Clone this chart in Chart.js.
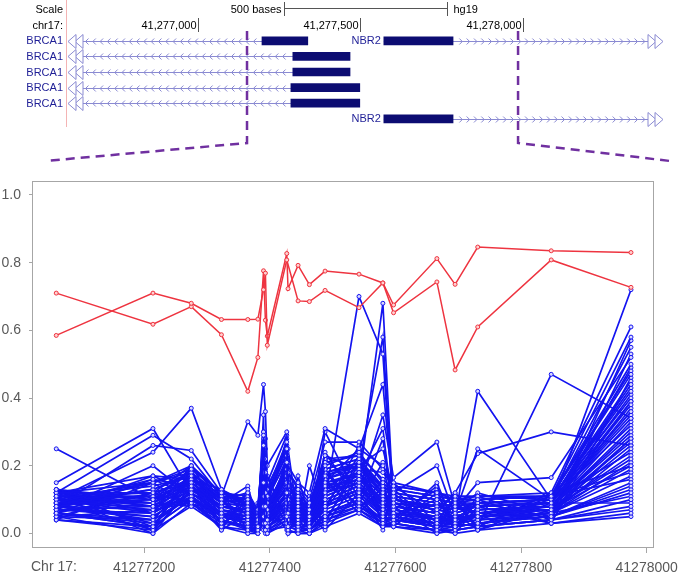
<!DOCTYPE html>
<html>
<head>
<meta charset="utf-8">
<script src="https://cdn.jsdelivr.net/npm/chart.js@4.4.1/dist/chart.umd.min.js"></script>
<style>
  html, body { margin: 0; padding: 0; background: #fff; }
  #wrap { position: relative; width: 685px; height: 573px; overflow: hidden; }
  #track { position: absolute; left: 0; top: 0; }
  #meth { position: absolute; left: 0; top: 165px; }
</style>
</head>
<body>
<div id="wrap">
  <canvas id="track" width="685" height="165"></canvas>
  <canvas id="meth" width="685" height="408"></canvas>
</div>
<script>
// ---- genome browser track (hg19, chr17) ----
const viewStart = 41276594, viewEnd = 41278431;
const rulerTicks = [41277000, 41277500, 41278000];
const scaleBar = [41277265, 41277765];
const zoomFrom = [41277151, 41277985];
const rowLabels = ['r1', 'r2', 'r3', 'r4', 'r5', 'r6'];
const txName = ['BRCA1', 'BRCA1', 'BRCA1', 'BRCA1', 'BRCA1', 'NBR2', 'NBR2'];
const txRow = [0, 1, 2, 3, 4, 0, 5];
const txStrand = [-1, -1, -1, -1, -1, 1, 1];
const txStart = [41196312, 41196312, 41196312, 41196312, 41196312, 41277572, 41277572];
const txEnd = [41277338, 41277468, 41277468, 41277498, 41277498, 41305000, 41305000];
const exonStart = [41277197, 41277292, 41277292, 41277286, 41277286, 41277572, 41277572];
const exonEnd = [41277338, 41277468, 41277468, 41277498, 41277498, 41277785, 41277785];

// ---- methylation per CpG site ----
const sites = [41277060, 41277214, 41277275, 41277323, 41277365, 41277381, 41277390, 41277393,
  41277396, 41277427, 41277429, 41277445, 41277463, 41277488, 41277542, 41277580, 41277597,
  41277666, 41277695, 41277731, 41277848, 41277975];
const xTicks = [41277200, 41277400, 41277600, 41277800, 41278000];
const yTicks = [0, 0.2, 0.4, 0.6, 0.8, 1.0];
const redA = [0.585, 0.71, 0.68, 0.632, 0.632, 0.633, 0.72, 0.769, 0.556, 0.808, null, 0.687, 0.685, 0.718, 0.667, 0.74, 0.652, 0.743, 0.483, 0.61, 0.808, 0.727];
const redB = [0.71, 0.618, 0.67, 0.587, 0.42, 0.52, 0.776, 0.63, 0.583, 0.827, 0.723, 0.792, 0.735, 0.775, 0.766, 0.74, 0.675, 0.812, 0.736, 0.846, 0.835, 0.83];
const blueSamples = [
  [0.08,0.05,0.12,0.06,0.03,0.02,0.15,0.08,0.04,0.12,0.06,0.03,0.02,0.10,0.14,0.06,0.05,0.03,0.04,0.05,0.07,0.22],
  [0.11,0.14,0.17,0.09,0.06,0.04,0.26,0.12,0.07,0.21,0.10,0.08,0.05,0.17,0.21,0.12,0.09,0.07,0.06,0.08,0.09,0.38],
  [0.06,0.02,0.10,0.04,0.01,0.01,0.08,0.03,0.02,0.05,0.02,0.01,0.01,0.05,0.09,0.03,0.03,0.01,0.02,0.03,0.05,0.12],
  [0.13,0.10,0.19,0.12,0.09,0.05,0.22,0.18,0.11,0.25,0.14,0.11,0.07,0.20,0.24,0.15,0.12,0.10,0.09,0.10,0.11,0.47],
  [0.09,0.16,0.14,0.07,0.05,0.03,0.18,0.06,0.03,0.09,0.04,0.05,0.03,0.12,0.18,0.09,0.06,0.04,0.03,0.06,0.08,0.30],
  [0.07,0.08,0.09,0.03,0.02,0.00,0.05,0.01,0.00,0.03,0.01,0.00,0.00,0.03,0.07,0.02,0.02,0.00,0.01,0.02,0.04,0.08],
  [0.12,0.12,0.20,0.10,0.12,0.07,0.29,0.22,0.13,0.27,0.18,0.13,0.09,0.23,0.19,0.18,0.14,0.12,0.11,0.11,0.10,0.55],
  [0.05,0.04,0.11,0.05,0.04,0.02,0.11,0.05,0.03,0.08,0.05,0.02,0.02,0.08,0.12,0.05,0.04,0.02,0.03,0.04,0.06,0.17],
  [0.10,0.07,0.15,0.08,0.07,0.04,0.20,0.10,0.06,0.15,0.09,0.06,0.04,0.14,0.16,0.10,0.08,0.06,0.05,0.07,0.08,0.27],
  [0.04,0.01,0.08,0.02,0.00,0.00,0.03,0.00,0.01,0.02,0.00,0.01,0.00,0.02,0.06,0.02,0.03,0.01,0.00,0.01,0.03,0.06],
  [0.09,0.13,0.18,0.11,0.10,0.06,0.24,0.15,0.09,0.19,0.12,0.09,0.06,0.19,0.22,0.14,0.11,0.09,0.08,0.09,0.10,0.42],
  [0.07,0.06,0.13,0.07,0.04,0.03,0.13,0.07,0.05,0.11,0.07,0.04,0.03,0.11,0.15,0.07,0.07,0.05,0.04,0.05,0.07,0.20],
  [0.12,0.17,0.16,0.13,0.08,0.05,0.17,0.09,0.05,0.14,0.08,0.07,0.05,0.15,0.17,0.08,0.10,0.08,0.07,0.08,0.09,0.34],
  [0.06,0.03,0.12,0.05,0.03,0.01,0.07,0.04,0.02,0.06,0.03,0.02,0.01,0.06,0.10,0.04,0.04,0.02,0.02,0.03,0.05,0.14],
  [0.11,0.09,0.17,0.09,0.11,0.06,0.28,0.20,0.12,0.23,0.15,0.12,0.08,0.21,0.23,0.16,0.13,0.11,0.10,0.10,0.11,0.50],
  [0.08,0.11,0.10,0.06,0.05,0.03,0.10,0.05,0.03,0.10,0.05,0.03,0.02,0.09,0.13,0.06,0.06,0.03,0.03,0.05,0.06,0.25],
  [0.10,0.15,0.19,0.12,0.08,0.05,0.21,0.13,0.08,0.17,0.11,0.08,0.05,0.16,0.20,0.11,0.09,0.08,0.07,0.09,0.09,0.36],
  [0.05,0.00,0.09,0.02,0.01,0.00,0.04,0.02,0.00,0.04,0.01,0.00,0.00,0.04,0.08,0.03,0.02,0.01,0.01,0.02,0.04,0.10],
  [0.13,0.06,0.14,0.08,0.06,0.04,0.16,0.11,0.07,0.18,0.09,0.06,0.04,0.13,0.16,0.09,0.08,0.06,0.05,0.07,0.08,0.31],
  [0.09,0.10,0.16,0.10,0.09,0.05,0.25,0.16,0.10,0.22,0.13,0.10,0.07,0.18,0.21,0.13,0.11,0.09,0.08,0.09,0.10,0.44],
  [0.25,0.10,0.15,0.07,0.05,0.03,0.12,0.06,0.04,0.10,0.06,0.04,0.03,0.10,0.14,0.08,0.07,0.04,0.04,0.06,0.07,0.28],
  [0.15,0.31,0.12,0.06,0.04,0.02,0.10,0.05,0.03,0.09,0.05,0.03,0.02,0.08,0.12,0.06,0.05,0.03,0.03,0.05,0.06,0.21],
  [0.12,0.29,0.22,0.11,0.07,0.04,0.19,0.10,0.06,0.16,0.10,0.07,0.04,0.13,0.17,0.10,0.08,0.06,0.05,0.07,0.08,0.33],
  [0.10,0.24,0.37,0.13,0.09,0.05,0.23,0.14,0.08,0.20,0.12,0.08,0.06,0.17,0.20,0.12,0.10,0.08,0.07,0.08,0.09,0.39],
  [0.08,0.26,0.245,0.12,0.10,0.06,0.27,0.17,0.10,0.24,0.14,0.10,0.07,0.19,0.22,0.13,0.11,0.09,0.08,0.09,0.10,0.45],
  [0.07,0.20,0.11,0.11,0.33,0.29,0.44,0.36,0.20,0.30,0.20,0.15,0.12,0.31,0.25,0.20,0.15,0.12,0.10,0.11,0.12,0.61],
  [0.09,0.08,0.14,0.07,0.06,0.03,0.14,0.08,0.05,0.12,0.07,0.05,0.04,0.10,0.70,0.53,0.06,0.05,0.04,0.06,0.07,0.26],
  [0.10,0.09,0.15,0.08,0.07,0.04,0.18,0.10,0.06,0.14,0.08,0.06,0.04,0.12,0.15,0.68,0.08,0.06,0.05,0.07,0.08,0.29],
  [0.11,0.12,0.16,0.09,0.08,0.05,0.20,0.12,0.08,0.17,0.10,0.07,0.05,0.15,0.25,0.44,0.10,0.07,0.06,0.08,0.09,0.35],
  [0.08,0.07,0.13,0.06,0.05,0.03,0.12,0.07,0.04,0.11,0.06,0.04,0.03,0.09,0.13,0.35,0.165,0.27,0.08,0.06,0.07,0.23],
  [0.07,0.05,0.12,0.05,0.04,0.02,0.10,0.05,0.03,0.08,0.04,0.03,0.02,0.07,0.20,0.25,0.12,0.20,0.05,0.05,0.06,0.19],
  [0.06,0.04,0.11,0.05,0.03,0.02,0.09,0.04,0.03,0.07,0.04,0.02,0.02,0.07,0.11,0.05,0.04,0.03,0.05,0.42,0.10,0.24],
  [0.10,0.11,0.15,0.09,0.06,0.04,0.13,0.08,0.05,0.12,0.07,0.05,0.03,0.11,0.15,0.09,0.07,0.05,0.03,0.02,0.47,0.34],
  [0.09,0.09,0.14,0.08,0.07,0.04,0.15,0.09,0.06,0.13,0.08,0.06,0.04,0.12,0.16,0.10,0.09,0.07,0.06,0.25,0.10,0.40],
  [0.11,0.08,0.16,0.10,0.08,0.05,0.19,0.11,0.07,0.16,0.09,0.07,0.05,0.14,0.18,0.11,0.09,0.07,0.12,0.236,0.30,0.26],
  [0.07,0.06,0.12,0.06,0.04,0.02,0.11,0.06,0.04,0.09,0.05,0.03,0.02,0.08,0.13,0.07,0.06,0.04,0.04,0.05,0.08,0.72],
  [0.08,0.13,0.17,0.10,0.09,0.05,0.22,0.13,0.08,0.19,0.11,0.08,0.06,0.16,0.19,0.12,0.10,0.08,0.07,0.15,0.165,0.52],
  [0.12,0.15,0.18,0.11,0.10,0.06,0.30,0.25,0.15,0.29,0.18,0.14,0.10,0.27,0.27,0.19,0.14,0.12,0.10,0.11,0.11,0.58],
  [0.06,0.02,0.10,0.04,0.02,0.01,0.06,0.03,0.01,0.05,0.02,0.02,0.20,0.06,0.09,0.04,0.03,0.15,0.02,0.03,0.05,0.15],
  [0.09,0.10,0.13,0.08,0.06,0.04,0.16,0.09,0.06,0.13,0.08,0.05,0.04,0.13,0.20,0.58,0.07,0.05,0.05,0.07,0.08,0.37],
  [0.10,0.03,0.11,0.04,0.02,0.01,0.09,0.04,0.02,0.07,0.03,0.02,0.01,0.06,0.10,0.04,0.05,0.02,0.02,0.03,0.06,0.11],
  [0.06,0.12,0.15,0.09,0.08,0.05,0.19,0.14,0.09,0.16,0.11,0.09,0.06,0.15,0.18,0.11,0.10,0.08,0.07,0.08,0.09,0.41],
  [0.12,0.08,0.10,0.05,0.03,0.02,0.08,0.03,0.02,0.06,0.03,0.02,0.01,0.05,0.08,0.04,0.04,0.02,0.03,0.04,0.05,0.13],
  [0.08,0.15,0.20,0.12,0.11,0.07,0.27,0.19,0.12,0.26,0.16,0.12,0.08,0.22,0.23,0.16,0.13,0.11,0.10,0.10,0.11,0.48],
  [0.05,0.07,0.09,0.04,0.02,0.01,0.06,0.02,0.01,0.04,0.02,0.01,0.01,0.04,0.07,0.03,0.03,0.01,0.01,0.02,0.04,0.07],
  [0.11,0.11,0.18,0.10,0.09,0.06,0.23,0.17,0.11,0.21,0.13,0.10,0.07,0.18,0.20,0.14,0.12,0.10,0.09,0.09,0.10,0.43],
  [0.13,0.01,0.19,0.02,0.10,0.01,0.21,0.02,0.12,0.03,0.15,0.01,0.08,0.03,0.22,0.02,0.11,0.01,0.09,0.02,0.11,0.16],
  [0.04,0.15,0.08,0.12,0.01,0.07,0.02,0.18,0.01,0.22,0.01,0.12,0.01,0.19,0.07,0.16,0.02,0.12,0.01,0.10,0.03,0.46],
  [0.11,0.00,0.14,0.03,0.07,0.00,0.12,0.01,0.06,0.02,0.09,0.00,0.05,0.01,0.12,0.01,0.08,0.00,0.06,0.01,0.09,0.09],
  [0.07,0.17,0.12,0.13,0.05,0.08,0.27,0.10,0.14,0.25,0.04,0.14,0.02,0.24,0.09,0.21,0.04,0.14,0.02,0.11,0.04,0.53],
  [0.12,0.02,0.17,0.01,0.13,0.02,0.06,0.28,0.03,0.18,0.02,0.10,0.07,0.04,0.19,0.03,0.13,0.02,0.10,0.02,0.12,0.20],
  [0.09,0.01,0.13,0.11,0.00,0.06,0.02,0.13,0.09,0.01,0.20,0.02,0.11,0.08,0.23,0.05,0.15,0.03,0.11,0.04,0.10,0.32],
  [0.05,0.12,0.09,0.02,0.12,0.01,0.30,0.05,0.17,0.04,0.16,0.08,0.01,0.30,0.10,0.28,0.03,0.09,0.04,0.09,0.05,0.57],
  [0.10,0.06,0.20,0.06,0.01,0.09,0.14,0.02,0.08,0.28,0.03,0.17,0.04,0.07,0.26,0.02,0.14,0.06,0.12,0.05,0.11,0.18],
  [0.08,0.04,0.16,0.13,0.08,0.02,0.24,0.11,0.00,0.13,0.07,0.01,0.09,0.16,0.06,0.14,0.05,0.13,0.00,0.08,0.03,0.05],
  [0.06,0.16,0.11,0.01,0.06,0.05,0.01,0.20,0.05,0.19,0.00,0.07,0.03,0.22,0.13,0.09,0.12,0.01,0.07,0.12,0.06,0.28],
  [0.12,0.09,0.08,0.09,0.14,0.03,0.35,0.04,0.11,0.06,0.25,0.04,0.06,0.02,0.17,0.31,0.05,0.10,0.02,0.06,0.09,0.49],
  [0.04,0.02,0.18,0.05,0.03,0.08,0.10,0.15,0.02,0.23,0.05,0.11,0.00,0.18,0.08,0.12,0.09,0.04,0.10,0.01,0.07,0.39]
];

Chart.defaults.font.family = '"Liberation Sans", Arial, sans-serif';

const comma = n => String(n).replace(/\B(?=(\d{3})+(?!\d))/g, ',');

// exons: one floating-bar dataset per gene, one slot per track row
const exonSets = ['BRCA1', 'NBR2'].map(g => {
  const d = rowLabels.map(() => null);
  txName.forEach((n, i) => { if (n === g) d[txRow[i]] = [exonStart[i], exonEnd[i]]; });
  return { label: g, data: d, backgroundColor: '#0c0c72', barThickness: 8, grouped: false, borderWidth: 0 };
});

function openTri(ctx, tip, w, cy) {
  ctx.beginPath();
  ctx.moveTo(tip, cy);
  ctx.lineTo(tip + w, cy - 7);
  ctx.lineTo(tip + w, cy + 7);
  ctx.closePath();
  ctx.fillStyle = '#fff';
  ctx.fill();
  ctx.stroke();
}

const trackDraw = {
  id: 'trackDraw',
  beforeDatasetsDraw(chart) {
    const { ctx, chartArea: a, scales: { x, y } } = chart;
    ctx.save();
    ctx.strokeStyle = '#8a8ad2';
    ctx.lineWidth = 1;
    txName.forEach((n, i) => {
      const cy = Math.round(y.getPixelForValue(txRow[i])) + 0.5;
      const clipL = txStart[i] < viewStart, clipR = txEnd[i] > viewEnd;
      const x0 = clipL ? a.left + 17 : x.getPixelForValue(txStart[i]);
      const x1 = clipR ? a.right - 15 : x.getPixelForValue(txEnd[i]);
      const e0 = x.getPixelForValue(exonStart[i]), e1 = x.getPixelForValue(exonEnd[i]);
      ctx.beginPath(); ctx.moveTo(x0, cy); ctx.lineTo(x1, cy); ctx.stroke();
      // strand chevrons on the intron line
      const s = txStrand[i];
      for (let cx = x0 + 4; cx < x1 - 2; cx += 7.3) {
        if (cx > e0 - 3 && cx < e1 + 3) continue;
        ctx.beginPath();
        ctx.moveTo(cx - 1.5 * s, cy - 3);
        ctx.lineTo(cx + 1.5 * s, cy);
        ctx.lineTo(cx - 1.5 * s, cy + 3);
        ctx.stroke();
      }
      // transcript continues past the window
      if (clipL) { openTri(ctx, a.left + 9, 8, cy); openTri(ctx, a.left + 2, 8, cy); }
      if (clipR) { openTri(ctx, a.right - 7, -8, cy); openTri(ctx, a.right, -8, cy); }
    });
    ctx.restore();
  },
  afterDraw(chart) {
    const { ctx, chartArea: a, scales: { x, y } } = chart;
    ctx.save();
    // left border highlight
    ctx.strokeStyle = '#f4b4b4';
    ctx.beginPath(); ctx.moveTo(a.left + 0.5, 0); ctx.lineTo(a.left + 0.5, 127); ctx.stroke();

    // gene labels
    ctx.font = '11px "Liberation Sans", Arial, sans-serif';
    ctx.fillStyle = '#1e1e96';
    ctx.textAlign = 'right';
    ctx.textBaseline = 'middle';
    txName.forEach((n, i) => {
      const lx = Math.max(a.left, x.getPixelForValue(txStart[i])) - 3;
      ctx.fillText(n, lx, y.getPixelForValue(txRow[i]) + 0.5);
    });

    // ruler
    ctx.fillStyle = '#000';
    ctx.textBaseline = 'alphabetic';
    ctx.fillText('Scale', a.left - 3, 13);
    ctx.fillText('chr17:', a.left - 3, 29);
    const b0 = Math.round(x.getPixelForValue(scaleBar[0])) + 0.5;
    const b1 = Math.round(x.getPixelForValue(scaleBar[1])) + 0.5;
    ctx.fillText('500 bases', b0 - 3, 13);
    ctx.strokeStyle = '#555';
    ctx.beginPath();
    ctx.moveTo(b0, 2); ctx.lineTo(b0, 16);
    ctx.moveTo(b1, 2); ctx.lineTo(b1, 16);
    ctx.moveTo(b0, 8.5); ctx.lineTo(b1, 8.5);
    ctx.stroke();
    rulerTicks.forEach(t => {
      const px = Math.round(x.getPixelForValue(t)) + 0.5;
      ctx.beginPath(); ctx.moveTo(px, 18); ctx.lineTo(px, 32); ctx.stroke();
      ctx.fillText(comma(t), px - 2, 29);
    });
    ctx.textAlign = 'left';
    ctx.fillText('hg19', b1 + 6, 13);

    // zoom call-out to the lower plot
    ctx.strokeStyle = '#7030a0';
    ctx.lineWidth = 2.5;
    ctx.setLineDash([9, 6]);
    zoomFrom.forEach((bp, k) => {
      const px = x.getPixelForValue(bp);
      ctx.beginPath();
      ctx.moveTo(px, 31);
      ctx.lineTo(px, 143);
      ctx.lineTo(k === 0 ? 45 : chart.width - 15, 161);
      ctx.stroke();
    });
    ctx.restore();
  }
};

new Chart(document.getElementById('track'), {
  type: 'bar',
  data: { labels: rowLabels, datasets: exonSets },
  options: {
    indexAxis: 'y',
    responsive: false,
    animation: false,
    events: [],
    layout: { padding: { left: 66, right: 22, top: 33, bottom: 38.4 } },
    plugins: { legend: { display: false }, tooltip: { enabled: false } },
    scales: {
      x: { type: 'linear', min: viewStart, max: viewEnd, display: false },
      y: { type: 'category', display: false }
    }
  },
  plugins: [trackDraw]
});

// ---- lower plot ----
const tickFont = { size: 14 };
const grey = '#595959', frame = '#a6a6a6';

const plotFrame = {
  id: 'plotFrame',
  beforeDatasetsDraw(chart) {
    const { ctx, chartArea: a } = chart;
    ctx.save();
    ctx.strokeStyle = frame;
    ctx.lineWidth = 1;
    ctx.strokeRect(Math.round(a.left) - 0.5, Math.round(a.top) + 0.5, Math.round(a.right - a.left), Math.round(a.bottom - a.top));
    ctx.restore();
  },
  afterDraw(chart) {
    const { ctx, scales: { x } } = chart;
    ctx.save();
    ctx.font = '14px "Liberation Sans", Arial, sans-serif';
    ctx.fillStyle = grey;
    ctx.textAlign = 'left';
    ctx.textBaseline = 'top';
    ctx.fillText('Chr 17:', 31, x.top + 6 + 7);
    ctx.restore();
  }
};

const series = (vals, color, fill, w) => ({
  data: sites.map((s, i) => ({ x: s, y: vals[i] })),
  borderColor: color,
  borderWidth: w,
  pointRadius: 2,
  pointBorderWidth: 1,
  pointBorderColor: color,
  pointBackgroundColor: fill,
  spanGaps: true,
  tension: 0
});

const datasets = [
  series(redA, '#ee3440', '#ffd0d0', 1.5),
  series(redB, '#ee3440', '#ffd0d0', 1.5),
  ...blueSamples.map(v => series(v, '#1414f0', '#d8d8ff', 1.7))
];

new Chart(document.getElementById('meth'), {
  type: 'line',
  data: { datasets },
  options: {
    responsive: false,
    animation: false,
    events: [],
    layout: { padding: { top: 2, right: 15, left: 0, bottom: 0 } },
    plugins: { legend: { display: false }, tooltip: { enabled: false } },
    scales: {
      x: {
        type: 'linear', min: 41277023, max: 41278011,
        afterBuildTicks: s => { s.ticks = xTicks.map(v => ({ value: v })); },
        afterFit: s => { s.height = 26; },
        ticks: { autoSkip: false, maxRotation: 0, padding: 7, color: grey, font: tickFont, callback: v => String(v) },
        grid: { drawOnChartArea: false, tickLength: 6, color: frame },
        border: { display: false }
      },
      y: {
        type: 'linear', min: -0.04, max: 1.04,
        afterBuildTicks: s => { s.ticks = yTicks.map(v => ({ value: v })); },
        afterFit: s => { s.width = 33; },
        ticks: { padding: 8, color: grey, font: tickFont, callback: v => v.toFixed(1) },
        grid: { drawOnChartArea: false, tickLength: 4, color: frame },
        border: { display: false }
      }
    }
  },
  plugins: [plotFrame]
});
</script>
</body>
</html>
